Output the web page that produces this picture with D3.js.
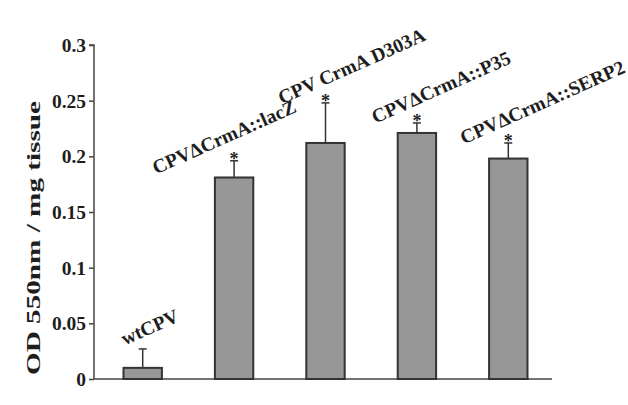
<!DOCTYPE html>
<html>
<head>
<meta charset="utf-8">
<script src="https://cdn.jsdelivr.net/npm/d3@7"></script>
<style>
  body { margin: 0; background: #fff; }
  text { font-family: "Liberation Serif", "Times New Roman", serif; font-weight: bold; fill: #1e1e1e; }
</style>
</head>
<body>
<div id="plot"></div>
<script>
// chart data
var groups = ["wtCPV", "CPV\u0394CrmA::lacZ", "CPV CrmA D303A", "CPV\u0394CrmA::P35", "CPV\u0394CrmA::SERP2"];
var means = [0.010, 0.181, 0.212, 0.221, 0.198];
var errors = [0.017, 0.015, 0.036, 0.009, 0.014];
var starred = [false, true, true, true, true];
var y_ticks = [0, 0.05, 0.1, 0.15, 0.2, 0.25, 0.3];

// label nudges (pixels) relative to the bar centre / error top
var label_dx = [7, -10, 26, 24, 34];
var label_dy = [-22, -24, -37, -36, -41];

const total_width = 628
const total_height = 405

var svg = d3.select("#plot").append("svg").attr("width", total_width).attr("height", total_height);

var x = d3.scaleBand().domain(groups).range([97, 554]).paddingInner(0.58).paddingOuter(0.29);
var y = d3.scaleLinear().domain([0, 0.3]).range([379, 45]);

// y axis
var yAxis = d3.axisLeft(y).tickValues(y_ticks).tickSize(5).tickPadding(3)
  .tickFormat(function(d) { return d3.format("")(+d.toFixed(2)); });
var yg = svg.append("g").attr("transform", "translate(94,0)").call(yAxis);
yg.attr("font-size", 19.5).attr("font-family", null);
yg.select(".domain").attr("stroke", "#444").attr("stroke-width", 1.5).attr("d", "M-5," + y(0.3) + "H0V" + y(0));
yg.selectAll(".tick line").attr("stroke", "#444").attr("stroke-width", 1.5);
yg.selectAll(".tick text").attr("fill", "#1e1e1e").attr("dy", "0.34em");

// x axis line
svg.append("line").attr("x1", 94).attr("x2", 552).attr("y1", y(0)).attr("y2", y(0))
  .attr("stroke", "#444").attr("stroke-width", 1.5);

// y title (stretched along its length like the original)
svg.append("text").attr("transform", "translate(40," + 238 + ") rotate(-90)")
  .attr("text-anchor", "middle").attr("font-size", 19)
  .attr("textLength", 274).attr("lengthAdjust", "spacingAndGlyphs")
  .text("OD 550nm / mg tissue");

// bars
svg.selectAll(".bar").data(groups).enter().append("rect")
  .attr("x", function(d) { return x(d); })
  .attr("y", function(d, i) { return y(means[i]); })
  .attr("width", x.bandwidth())
  .attr("height", function(d, i) { return y(0) - y(means[i]); })
  .attr("fill", "#979797").attr("stroke", "#333").attr("stroke-width", 2);

// error bars, stars and labels
groups.forEach(function(g, i) {
  var cx = x(g) + x.bandwidth() / 2;
  var top = y(means[i] + errors[i]);
  svg.append("line").attr("x1", cx).attr("x2", cx).attr("y1", y(means[i])).attr("y2", top)
    .attr("stroke", "#333").attr("stroke-width", 1.5);
  svg.append("line").attr("x1", cx - 4).attr("x2", cx + 4).attr("y1", top).attr("y2", top)
    .attr("stroke", "#333").attr("stroke-width", 1.5);
  if (starred[i]) {
    svg.append("text").attr("x", cx).attr("y", top + 4).attr("text-anchor", "middle")
      .attr("font-size", 18).attr("fill", "#333").text("*");
  }
  svg.append("text")
    .attr("transform", "translate(" + (cx + label_dx[i]) + "," + (top + label_dy[i]) + ") rotate(-24)")
    .attr("text-anchor", "middle").attr("dy", "0.35em")
    .attr("font-size", 19.5).text(g);
});
</script>
</body>
</html>
